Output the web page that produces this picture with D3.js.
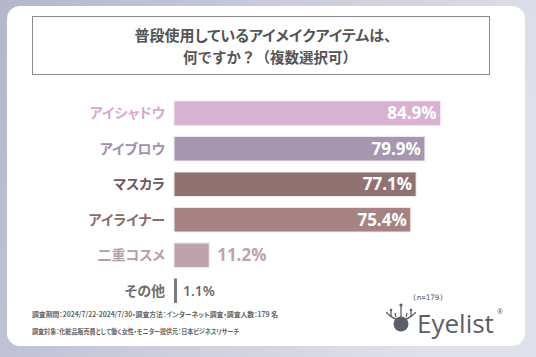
<!DOCTYPE html>
<html><head><meta charset="utf-8">
<script src="https://cdn.jsdelivr.net/npm/d3@7"></script>
<style>
html,body{margin:0;padding:0;background:#fff;}
svg{display:block;font-family:"Noto Sans CJK JP","Noto Sans",sans-serif;font-feature-settings:"palt";}
.nopalt{font-feature-settings:normal;}
</style></head>
<body><svg id="c" width="536" height="357"></svg>
<script>
const categories = ["アイシャドウ","アイブロウ","マスカラ","アイライナー","二重コスメ","その他"];
const values = [84.9, 79.9, 77.1, 75.4, 11.2, 1.1];
const barColors = ["#d9b1d3","#a697b1","#8f7271","#a68383","#bfa3ac","#7a7a7a"];
const labelColors = ["#d6a9ce","#9f90ad","#6f5a5a","#8c6b6b","#b49ea8","#707070"];
const titleLines = ["普段使用しているアイメイクアイテムは、","何ですか？（複数選択可）"];
const footerLines = ["調査期間：2024/7/22-2024/7/30・調査方法：インターネット調査・調査人数：179 名",
                     "調査対象：化粧品販売員として働く女性・モニター提供元：日本ビジネスリサーチ"];
const sampleNote = "(n=179)";
const brand = "Eyelist";

const svg = d3.select("#c");
const defs = svg.append("defs");
const g1 = defs.append("linearGradient").attr("id","bg").attr("x1","0").attr("y1","0").attr("x2","1").attr("y2","0.3");
g1.append("stop").attr("offset","0").attr("stop-color","#b4b7cc");
g1.append("stop").attr("offset","1").attr("stop-color","#dfe1ea");
svg.append("rect").attr("width",536).attr("height",357).attr("fill","url(#bg)");
svg.append("rect").attr("x",7).attr("y",6).attr("width",518).attr("height",340).attr("rx",13).attr("fill","#fff");

// title box
svg.append("rect").attr("x",32.5).attr("y",16.5).attr("width",457).attr("height",58)
  .attr("fill","#fff").attr("stroke","#8a8a8a").attr("stroke-width",1);
svg.append("g").selectAll("text").data(titleLines).join("text")
  .attr("class",(d,i)=> i===1 ? "nopalt" : null)
  .attr("x",(d,i)=> i===1 ? 270 : 263).attr("y",(d,i)=>41+i*22).attr("text-anchor","middle")
  .attr("font-size",(d,i)=> i===1 ? 14.5 : 15).attr("font-weight","bold").attr("fill","#555")
  .text(d=>d);

// scales
const x = d3.scaleLinear().domain([0,100]).range([174,488]);
const y = d3.scaleBand().domain(categories).range([95.5,308.5]).paddingInner(0.31).paddingOuter(0.155);

const rows = svg.append("g").selectAll("g").data(categories).join("g");
rows.append("rect")
  .attr("x",x(0)).attr("y",d=>y(d)).attr("height",y.bandwidth())
  .attr("width",(d,i)=>i===5 ? 3 : x(values[i])-x(0))
  .attr("fill",(d,i)=>barColors[i])
  .attr("stroke",(d,i)=>i===5?"none":"#f1e8ef").attr("stroke-width",1);
rows.append("text")
  .attr("x",165).attr("y",d=>y(d)+y.bandwidth()/2).attr("dy","0.36em")
  .attr("text-anchor","end").attr("font-size",14).attr("font-weight","bold")
  .attr("fill",(d,i)=>labelColors[i]).text(d=>d);
rows.append("text")
  .attr("x",(d,i)=> values[i] > 30 ? x(values[i])-4 : (i===5 ? x(0)+9 : x(values[i])+8))
  .attr("y",d=>y(d)+y.bandwidth()/2).attr("dy","0.36em")
  .attr("text-anchor",(d,i)=> values[i] > 30 ? "end" : "start")
  .attr("font-family","'Open Sans','Noto Sans',sans-serif")
  .attr("font-size",(d,i)=> i===5 ? 14 : 17).attr("font-weight",(d,i)=> i===5 ? "600" : "bold")
  .attr("fill",(d,i)=> values[i] > 30 ? "#fff" : (i===5 ? "#666" : barColors[i]))
  .text((d,i)=>values[i].toFixed(1)+"%");

// footer
const footerWidths = [246, 207];
svg.append("g").selectAll("text").data(footerLines).join("text")
  .attr("x",32).attr("y",(d,i)=>317+i*17).attr("font-size",7).attr("font-weight","bold")
  .attr("textLength",(d,i)=>footerWidths[i]).attr("lengthAdjust","spacingAndGlyphs")
  .attr("fill","#666").text(d=>d);
svg.append("text").attr("x",428).attr("y",300).attr("text-anchor","middle")
  .attr("font-size",7.5).attr("font-family","'DejaVu Sans Mono',monospace").attr("fill","#555").text(sampleNote);

// logo
const logo = svg.append("g").attr("fill","#5b6068").attr("stroke","#5b6068");
logo.append("circle").attr("cx",401).attr("cy",324).attr("r",7.5).attr("stroke","none");
logo.append("path").attr("d","M388,314 Q401,326 414,314").attr("fill","none").attr("stroke-width",1.6);
logo.append("path").attr("d","M391,317 L391,311 M401,318 L401,306 M411,317 L411,311 M396,317 L395,313 M406,317 L407,313").attr("stroke-width",1.3);
logo.append("circle").attr("cx",401).attr("cy",305).attr("r",1.6).attr("stroke","none");
logo.append("circle").attr("cx",391).attr("cy",310).attr("r",1.3).attr("stroke","none");
logo.append("circle").attr("cx",411).attr("cy",310).attr("r",1.3).attr("stroke","none");
logo.append("circle").attr("cx",387).attr("cy",313).attr("r",1).attr("stroke","none");
logo.append("circle").attr("cx",415).attr("cy",313).attr("r",1).attr("stroke","none");
svg.append("text").attr("x",417).attr("y",333).attr("font-family","'Open Sans',sans-serif")
  .attr("font-size",26).attr("fill","#5b6068").text(brand);
svg.append("text").attr("x",497).attr("y",314).attr("font-family","'Open Sans',sans-serif")
  .attr("font-size",7).attr("fill","#5b6068").text("®");
</script></body></html>
